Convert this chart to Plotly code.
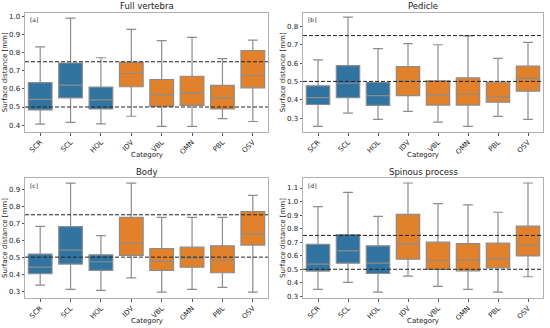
import plotly.graph_objects as go

categories = ["SCR", "SCL", "HOL", "IDV", "VBL", "OMN", "PBL", "OSV"]
panel_titles = ["Full vertebra", "Pedicle", "Body", "Spinous process"]
panel_tags = ["[a]", "[b]", "[c]", "[d]"]

# Full vertebra
a_low = [0.405, 0.415, 0.407, 0.449, 0.393, 0.393, 0.436, 0.420]
a_q1 = [0.484, 0.550, 0.489, 0.612, 0.504, 0.509, 0.489, 0.606]
a_med = [0.542, 0.621, 0.539, 0.685, 0.568, 0.575, 0.551, 0.674]
a_q3 = [0.635, 0.743, 0.610, 0.747, 0.652, 0.670, 0.619, 0.812]
a_up = [0.832, 0.991, 0.772, 0.929, 0.867, 0.885, 0.767, 0.869]

# Pedicle
b_low = [0.255, 0.327, 0.293, 0.336, 0.278, 0.255, 0.309, 0.293]
b_q1 = [0.374, 0.411, 0.369, 0.423, 0.371, 0.371, 0.387, 0.447]
b_med = [0.412, 0.490, 0.423, 0.500, 0.427, 0.430, 0.416, 0.517]
b_q3 = [0.476, 0.586, 0.494, 0.581, 0.503, 0.519, 0.496, 0.584]
b_up = [0.617, 0.851, 0.679, 0.706, 0.700, 0.749, 0.626, 0.713]

# Body
c_low = [0.335, 0.310, 0.304, 0.378, 0.294, 0.310, 0.322, 0.294]
c_q1 = [0.402, 0.459, 0.422, 0.510, 0.422, 0.441, 0.408, 0.571]
c_med = [0.441, 0.541, 0.473, 0.582, 0.476, 0.496, 0.482, 0.637]
c_q3 = [0.518, 0.680, 0.514, 0.735, 0.551, 0.559, 0.567, 0.769]
c_up = [0.682, 0.937, 0.627, 0.937, 0.735, 0.735, 0.735, 0.865]

# Spinous process
d_low = [0.352, 0.403, 0.332, 0.450, 0.374, 0.352, 0.332, 0.445]
d_q1 = [0.487, 0.545, 0.469, 0.575, 0.499, 0.489, 0.511, 0.599]
d_med = [0.538, 0.636, 0.545, 0.688, 0.565, 0.570, 0.577, 0.678]
d_q3 = [0.685, 0.756, 0.673, 0.906, 0.700, 0.690, 0.693, 0.818]
d_up = [0.963, 1.068, 0.891, 1.137, 0.985, 0.975, 0.921, 1.137]

y_ranges = [[0.362, 1.022], [0.224, 0.876], [0.259, 0.967], [0.288, 1.174]]
y_ticks = [[0.4, 0.5, 0.6, 0.7, 0.8, 0.9, 1.0],
           [0.3, 0.4, 0.5, 0.6, 0.7, 0.8],
           [0.3, 0.4, 0.5, 0.6, 0.7, 0.8, 0.9],
           [0.3, 0.4, 0.5, 0.6, 0.7, 0.8, 0.9, 1.0, 1.1]]
thresholds = [0.5, 0.75]

panels = [
    (a_low, a_q1, a_med, a_q3, a_up),
    (b_low, b_q1, b_med, b_q3, b_up),
    (c_low, c_q1, c_med, c_q3, c_up),
    (d_low, d_q1, d_med, d_q3, d_up),
]

W, H = 550, 328
# pixel boxes for axes: (left, right, top, bottom)
boxes = [(25, 268, 12.5, 132), (303, 543, 12.5, 132),
         (25, 268, 178, 298), (303, 543, 178, 298)]

BLUE = "#3274a1"
ORANGE = "#e1812c"
LINE = "#8c8c8c"
FONT = "DejaVu Sans"

fig = go.Figure()
layout = {}
annotations = []
shapes = []

for i, (low, q1, med, q3, up) in enumerate(panels):
    n = i + 1
    xa = "x" if n == 1 else f"x{n}"
    ya = "y" if n == 1 else f"y{n}"
    xkey = "xaxis" if n == 1 else f"xaxis{n}"
    ykey = "yaxis" if n == 1 else f"yaxis{n}"
    groups = [(slice(0, 3), BLUE), (slice(3, 8), ORANGE)]
    for sl, col in groups:
        fig.add_trace(go.Box(
            x=categories[sl], q1=q1[sl], median=med[sl], q3=q3[sl],
            lowerfence=low[sl], upperfence=up[sl],
            fillcolor=col, line=dict(color=LINE, width=1.2),
            whiskerwidth=0.42, width=0.78, boxpoints=False,
            showlegend=False, xaxis=xa, yaxis=ya, hoverinfo="skip",
        ))
    l, r, t, b = boxes[i]
    layout[xkey] = dict(
        domain=[l / W, r / W], anchor=ya, type="category",
        categoryorder="array", categoryarray=categories,
        range=[-0.5, 7.5], tickangle=-45, showline=True, mirror=True,
        linecolor="#b0b0b0", linewidth=1, ticks="outside", ticklen=2.5,
        tickcolor="#555", tickfont=dict(family=FONT, size=7, color="#222"),
        showgrid=False, zeroline=False, automargin=False,
    )
    layout[ykey] = dict(
        domain=[1 - b / H, 1 - t / H], anchor=xa, range=y_ranges[i],
        tickvals=y_ticks[i], ticktext=[f"{v:.1f}" for v in y_ticks[i]],
        showline=True, mirror=True, linecolor="#b0b0b0", linewidth=1,
        ticks="outside", ticklen=2.5, tickcolor="#555",
        tickfont=dict(family=FONT, size=7, color="#222"),
        showgrid=False, zeroline=False, automargin=False,
    )
    for th in thresholds:
        shapes.append(dict(type="line", xref=f"{xa} domain", yref=ya,
                           x0=0, x1=1, y0=th, y1=th,
                           line=dict(color="#222", width=1, dash="4px,2px")))
    # title
    annotations.append(dict(text=panel_titles[i], x=(l + r) / 2 / W,
                            y=1 - (t - 6) / H, xref="paper", yref="paper",
                            showarrow=False, xanchor="center", yanchor="middle",
                            font=dict(family=FONT, size=8.5, color="#222")))
    annotations.append(dict(text=panel_tags[i], x=(l + 3) / W,
                            y=1 - (t + 1.5) / H, xref="paper", yref="paper",
                            showarrow=False, xanchor="left", yanchor="top",
                            font=dict(family=FONT, size=6, color="#222")))
    annotations.append(dict(text="Category", x=(l + r) / 2 / W,
                            y=1 - (b + 23) / H, xref="paper", yref="paper",
                            showarrow=False, xanchor="center", yanchor="middle",
                            font=dict(family=FONT, size=7, color="#222")))
    annotations.append(dict(text="Surface distance [mm]", x=(l - 20) / W,
                            y=1 - (t + b) / 2 / H, xref="paper", yref="paper",
                            showarrow=False, textangle=-90, xanchor="center",
                            yanchor="middle",
                            font=dict(family=FONT, size=7, color="#222")))

fig.update_layout(
    width=W, height=H,
    margin=dict(l=0, r=0, t=0, b=0, pad=0, autoexpand=False),
    paper_bgcolor="white", plot_bgcolor="white", boxmode="overlay",
    annotations=annotations, shapes=shapes, **layout,
)
fig.write_html(
    "out.html",
    config={"displayModeBar": False},
    post_script="document.body.style.margin='0';document.body.style.overflow='hidden';",
)
